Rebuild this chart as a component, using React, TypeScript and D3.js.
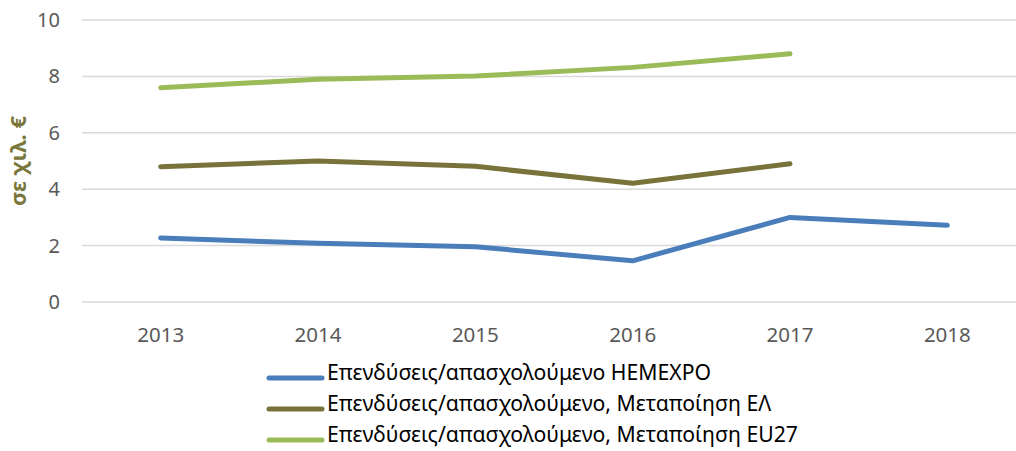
import React from 'react';
import * as d3 from 'd3';

const years = ['2013', '2014', '2015', '2016', '2017', '2018'];
const hemexpo = [2.27, 2.08, 1.96, 1.46, 3.0, 2.72];
const manufacturingEL = [4.8, 5.0, 4.81, 4.21, 4.9];
const manufacturingEU27 = [7.6, 7.9, 8.01, 8.32, 8.8];
const yTicks = [0, 2, 4, 6, 8, 10];
const seriesNames = [
  'Επενδύσεις/απασχολούμενο HEMEXPO',
  'Επενδύσεις/απασχολούμενο, Μεταποίηση ΕΛ',
  'Επενδύσεις/απασχολούμενο, Μεταποίηση EU27',
];
const seriesColors = ['#4a7ebb', '#78733a', '#9bbb59'];
const yTitle = 'σε χιλ. €';

const width = 1016;
const height = 451;
const font = '"Noto Sans", sans-serif';

export default function App() {
  const x = d3.scaleBand<string>().domain(years).range([82, 1026]).padding(0);
  const y = d3.scaleLinear().domain([0, 10]).range([302, 20]);
  const cx = (yr: string) => (x(yr) as number) + x.bandwidth() / 2;

  const series = [hemexpo, manufacturingEL, manufacturingEU27];
  const line = d3
    .line<number>()
    .x((_, i) => cx(years[i]))
    .y((d) => y(d));

  return (
    <svg
      width={width}
      height={height}
      style={{ position: 'absolute', left: 0, top: 0, background: '#fff' }}
      fontFamily={font}
    >
      {yTicks.map((t) => (
        <g key={t}>
          <line x1={82} x2={width} y1={y(t)} y2={y(t)} stroke="#d9d9d9" strokeWidth={1.5} />
          <text x={60} y={y(t)} dy="0.35em" textAnchor="end" fontSize={20} fill="#595959">
            {t}
          </text>
        </g>
      ))}
      {years.map((yr) => (
        <text key={yr} x={cx(yr)} y={342} textAnchor="middle" fontSize={20.5} fill="#595959">
          {yr}
        </text>
      ))}
      <text
        transform="translate(18,161) rotate(-90)"
        textAnchor="middle"
        dy="0.35em"
        fontSize={22}
        fontWeight="bold"
        fill="#7a773c"
      >
        {yTitle}
      </text>
      {series.map((s, i) => (
        <path
          key={i}
          d={line(s) ?? ''}
          fill="none"
          stroke={seriesColors[i]}
          strokeWidth={5}
          strokeLinecap="round"
          strokeLinejoin="round"
        />
      ))}
      {seriesNames.map((name, i) => (
        <g key={name} transform={`translate(0,${380 + i * 31})`}>
          <line x1={269} x2={322} y1={-2} y2={-2} stroke={seriesColors[i]} strokeWidth={5} strokeLinecap="round" />
          <text x={327} y={0} fontSize={21.2} fill="#000">
            {name}
          </text>
        </g>
      ))}
    </svg>
  );
}
